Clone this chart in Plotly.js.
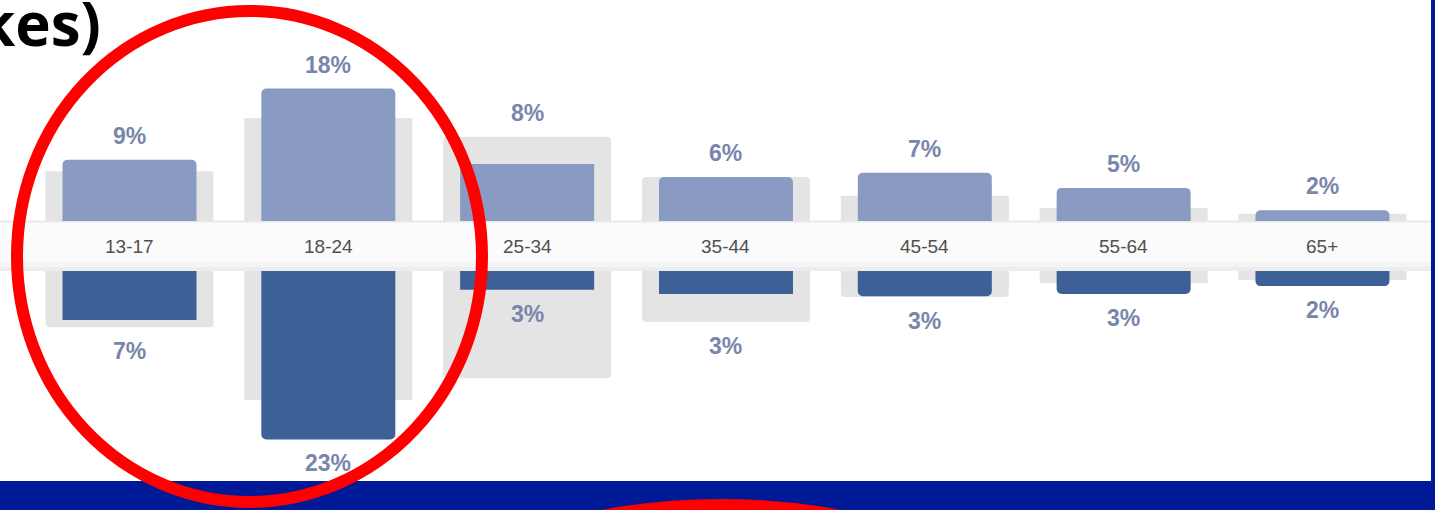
<!DOCTYPE html>
<html>
<head>
<meta charset="utf-8">
<script src="https://cdn.plot.ly/plotly-3.0.1.min.js"></script>
<style>
  html, body { margin: 0; padding: 0; background: #ffffff; }
  #chart { width: 1435px; height: 510px; }
</style>
</head>
<body>
<div id="chart"></div>
<script>
// ---- data (percent of audience) ----
const ages = ['13-17', '18-24', '25-34', '35-44', '45-54', '55-64', '65+'];
const women = [8.5, 18.4, 7.9, 6.1, 6.7, 4.6, 1.5];        // upper bars
const men = [6.8, 23.4, 2.6, 3.2, 3.5, 3.2, 2.1];           // lower bars
const womenAll = [6.9, 14.3, 11.7, 6.1, 3.5, 1.8, 1.0];     // grey comparison, upper
const menAll = [7.8, 17.9, 14.9, 7.1, 3.6, 1.7, 1.25];      // grey comparison, lower
const womenLabels = ['9%', '18%', '8%', '6%', '7%', '5%', '2%'];
const menLabels = ['7%', '23%', '3%', '3%', '3%', '3%', '2%'];
const headline = 'kes)';

// ---- styling / layout ----
const W = 1435, H = 510;
const pxPerUnit = 7.2;
const upperZeroPx = 221, lowerZeroPx = 271;
const greyCol = '#e4e4e4', womenCol = '#899bc2', menCol = '#3d6097';
const labelCol = '#7886ab';

const py = p => 1 - p / H;   // pixel row -> paper y
const px = p => p / W;       // pixel column -> paper x

const traces = [
  { type: 'bar', x: ages, y: womenAll, xaxis: 'x', yaxis: 'y', width: 0.845,
    marker: { color: greyCol, cornerradius: 4 }, hoverinfo: 'skip' },
  { type: 'bar', x: ages, y: women, xaxis: 'x', yaxis: 'y', width: 0.674,
    marker: { color: womenCol, cornerradius: 5 }, hoverinfo: 'skip' },
  { type: 'bar', x: ages, y: menAll, xaxis: 'x', yaxis: 'y2', width: 0.845,
    marker: { color: greyCol, cornerradius: 4 }, hoverinfo: 'skip' },
  { type: 'bar', x: ages, y: men, xaxis: 'x', yaxis: 'y2', width: 0.674,
    marker: { color: menCol, cornerradius: 5 }, hoverinfo: 'skip' }
];

const annotations = [];
const valFont = { family: 'Liberation Sans, Arial, sans-serif', size: 23, color: labelCol, weight: 700 };
ages.forEach((a, i) => {
  annotations.push({ xref: 'x', yref: 'y', x: a, y: Math.max(women[i], womenAll[i]),
    text: '<b>' + womenLabels[i] + '</b>', showarrow: false, yanchor: 'middle', yshift: 24, font: valFont });
  const lowAnchor = i === 2 ? men[i] : Math.max(men[i], menAll[i]);
  annotations.push({ xref: 'x', yref: 'y2', x: a, y: lowAnchor,
    text: '<b>' + menLabels[i] + '</b>', showarrow: false, yanchor: 'middle', yshift: -24, font: valFont });
  annotations.push({ xref: 'x', yref: 'paper', x: a, y: py(246),
    text: a, showarrow: false, yanchor: 'middle',
    font: { family: 'Liberation Sans, Arial, sans-serif', size: 19, color: '#505050' } });
});
annotations.push({ xref: 'paper', yref: 'paper', x: 0, y: 1, xanchor: 'left', yanchor: 'top',
  xshift: -24, yshift: 20, text: '<b>' + headline + '</b>', showarrow: false,
  font: { family: 'Open Sans, sans-serif', size: 60, color: '#000000' } });

const shapes = [
  // light band carrying the age labels
  { type: 'rect', xref: 'paper', yref: 'paper', x0: 0, x1: px(1431), y0: py(271), y1: py(221),
    fillcolor: '#fbfbfb', line: { width: 0 }, layer: 'below' },
  { type: 'rect', xref: 'paper', yref: 'paper', x0: 0, x1: px(1431), y0: py(222.5), y1: py(220.5),
    fillcolor: '#e9e9e9', line: { width: 0 }, layer: 'below' },
  { type: 'rect', xref: 'paper', yref: 'paper', x0: 0, x1: px(1431), y0: py(267), y1: py(262),
    fillcolor: '#f4f4f4', line: { width: 0 }, layer: 'below' },
  { type: 'rect', xref: 'paper', yref: 'paper', x0: 0, x1: px(1431), y0: py(271), y1: py(267),
    fillcolor: '#ededed', line: { width: 0 }, layer: 'below' },
  // slide frame: bottom band and right edge
  { type: 'rect', xref: 'paper', yref: 'paper', x0: 0, x1: 1, y0: 0, y1: py(481),
    fillcolor: '#001996', line: { width: 0 }, layer: 'above' },
  { type: 'rect', xref: 'paper', yref: 'paper', x0: px(1431), x1: 1, y0: 0, y1: 1,
    fillcolor: '#001996', line: { width: 0 }, layer: 'above' },
  // red highlight ellipses
  { type: 'circle', xref: 'paper', yref: 'paper', x0: px(17), x1: px(482), y0: py(502), y1: py(11),
    line: { color: '#ff0000', width: 12 }, fillcolor: 'rgba(0,0,0,0)', layer: 'above' },
  { type: 'circle', xref: 'paper', yref: 'paper', x0: px(461), x1: px(981), y0: py(705), y1: py(505),
    line: { color: '#ff0000', width: 12 }, fillcolor: 'rgba(0,0,0,0)', layer: 'above' }
];

const layout = {
  width: W, height: H,
  margin: { l: 0, r: 0, t: 0, b: 0, pad: 0 },
  paper_bgcolor: '#ffffff', plot_bgcolor: 'rgba(0,0,0,0)',
  showlegend: false, barmode: 'overlay',
  xaxis: { type: 'category', categoryorder: 'array', categoryarray: ages,
    range: [-0.6513, 6.566], visible: false, fixedrange: true },
  yaxis: { domain: [py(upperZeroPx), 1], range: [0, upperZeroPx / pxPerUnit],
    visible: false, fixedrange: true },
  yaxis2: { domain: [0, py(lowerZeroPx)], range: [(H - lowerZeroPx) / pxPerUnit, 0],
    visible: false, fixedrange: true },
  annotations: annotations,
  shapes: shapes
};

Plotly.newPlot('chart', traces, layout, { staticPlot: true, displayModeBar: false });
</script>
</body>
</html>
